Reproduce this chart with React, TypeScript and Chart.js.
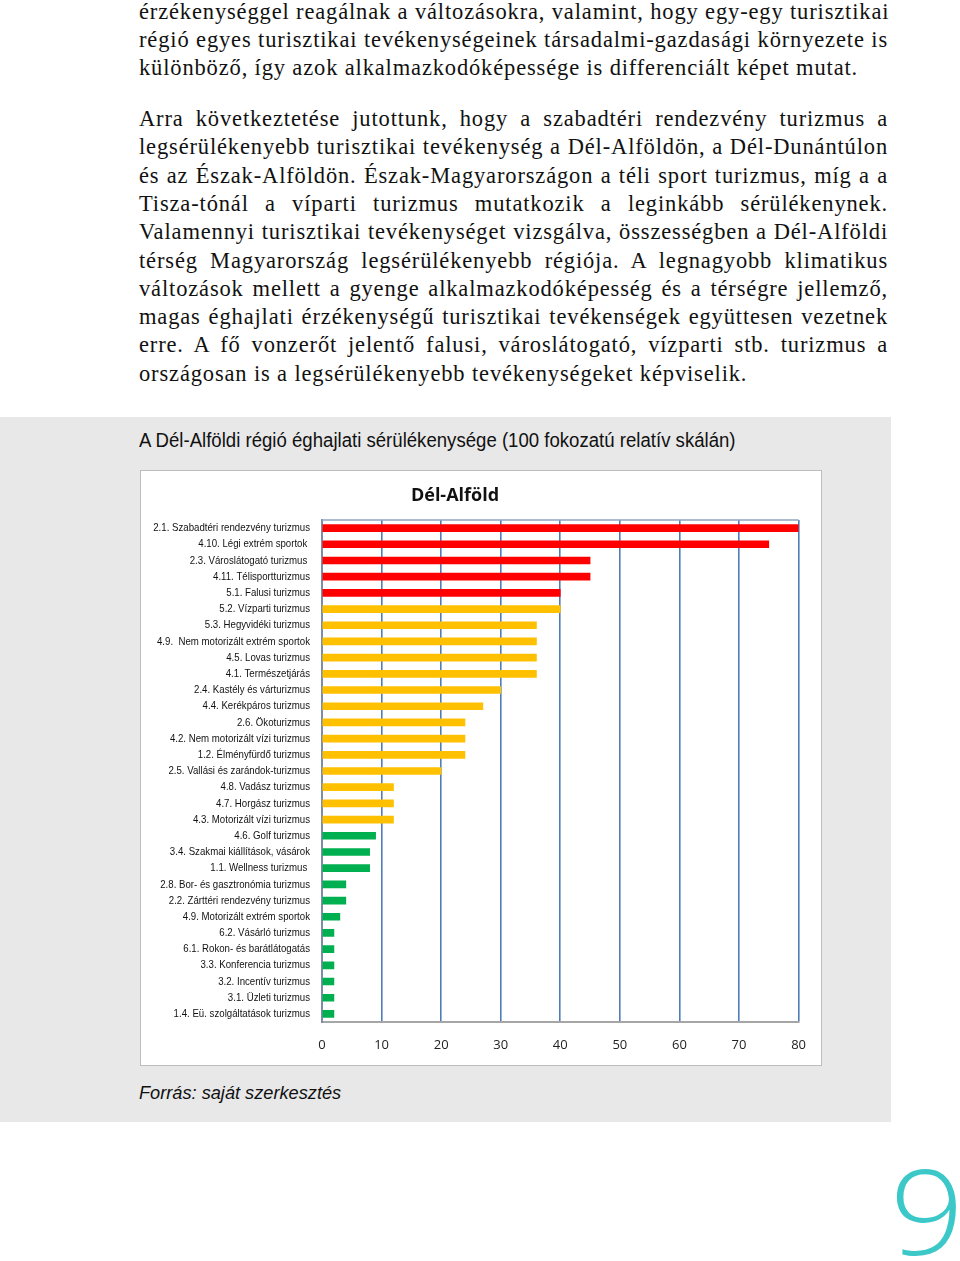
import React, { useEffect, useRef } from "react";
import { Chart, registerables } from "chart.js";

Chart.register(...registerables);

const categories: string[] = [
  "2.1. Szabadtéri rendezvény turizmus",
  "4.10. Légi extrém sportok ",
  "2.3. Városlátogató turizmus ",
  "4.11. Télisportturizmus",
  "5.1. Falusi turizmus",
  "5.2. Vízparti turizmus",
  "5.3. Hegyvidéki turizmus",
  "4.9.  Nem motorizált extrém sportok",
  "4.5. Lovas turizmus",
  "4.1. Természetjárás",
  "2.4. Kastély és várturizmus",
  "4.4. Kerékpáros turizmus",
  "2.6. Ökoturizmus",
  "4.2. Nem motorizált vízi turizmus",
  "1.2. Élményfürdő turizmus",
  "2.5. Vallási és zarándok-turizmus",
  "4.8. Vadász turizmus",
  "4.7. Horgász turizmus",
  "4.3. Motorizált vízi turizmus",
  "4.6. Golf turizmus",
  "3.4. Szakmai kiállítások, vásárok",
  "1.1. Wellness turizmus ",
  "2.8. Bor- és gasztronómia turizmus",
  "2.2. Zárttéri rendezvény turizmus",
  "4.9. Motorizált extrém sportok",
  "6.2. Vásárló turizmus",
  "6.1. Rokon- és barátlátogatás",
  "3.3. Konferencia turizmus",
  "3.2. Incentív turizmus",
  "3.1. Üzleti turizmus",
  "1.4. Eü. szolgáltatások turizmus",
];

const values: number[] = [
  80, 75, 45, 45, 40, 40, 36, 36, 36, 36, 30, 27, 24, 24, 24, 20, 12, 12, 12, 9,
  8, 8, 4, 4, 3, 2, 2, 2, 2, 2, 2,
];

// vulnerability class per bar: "high" (red), "mid" (yellow), "low" (green)
const levels: string[] = [
  "high", "high", "high", "high", "high",
  "mid", "mid", "mid", "mid", "mid", "mid", "mid", "mid", "mid", "mid", "mid",
  "mid", "mid", "mid",
  "low", "low", "low", "low", "low", "low", "low", "low", "low", "low", "low", "low",
];

const levelColors: Record<string, string> = {
  high: "#FF0000",
  mid: "#FFC000",
  low: "#00B050",
};

const xTicks: number[] = [0, 10, 20, 30, 40, 50, 60, 70, 80];

const chartTitle = "Dél-Alföld";
const boxTitle =
  "A Dél-Alföldi régió éghajlati sérülékenysége (100 fokozatú relatív skálán)";
const sourceText = "Forrás: saját szerkesztés";

const para1: string[] = [
  "érzékenységgel reagálnak a változásokra, valamint, hogy egy-egy turisztikai",
  "régió egyes turisztikai tevékenységeinek társadalmi-gazdasági környezete is",
  "különböző, így azok alkalmazkodóképessége is differenciált képet mutat.",
];
const para2: string[] = [
  "Arra következtetése jutottunk, hogy a szabadtéri rendezvény turizmus a",
  "legsérülékenyebb turisztikai tevékenység a Dél-Alföldön, a Dél-Dunántúlon",
  "és az Észak-Alföldön. Észak-Magyarországon a téli sport turizmus, míg a a",
  "Tisza-tónál a víparti turizmus mutatkozik a leginkább sérülékenynek.",
  "Valamennyi turisztikai tevékenységet vizsgálva, összességben a Dél-Alföldi",
  "térség Magyarország legsérülékenyebb régiója. A legnagyobb klimatikus",
  "változások mellett a gyenge alkalmazkodóképesség és a térségre jellemző,",
  "magas éghajlati érzékenységű turisztikai tevékenségek együttesen vezetnek",
  "erre. A fő vonzerőt jelentő falusi, városlátogató, vízparti stb. turizmus a",
  "országosan is a legsérülékenyebb tevékenységeket képviselik.",
];

const plotFrame = {
  id: "plotFrame",
  afterDraw(chart: any) {
    const { ctx, chartArea } = chart;
    ctx.save();
    ctx.strokeStyle = "#8FA3BF";
    ctx.lineWidth = 1.5;
    ctx.beginPath();
    ctx.moveTo(chartArea.left, chartArea.top);
    ctx.lineTo(chartArea.right, chartArea.top);
    ctx.stroke();
    ctx.restore();
  },
};

// draws the category labels of the y scale in a condensed style
const narrowLabels = {
  id: "narrowLabels",
  afterDraw(chart: any) {
    const { ctx } = chart;
    const yScale = chart.scales.y;
    const right = yScale.right - 12;
    ctx.save();
    ctx.fillStyle = "#111";
    ctx.font = '11.5px "Liberation Sans", Arial, sans-serif';
    ctx.textAlign = "right";
    ctx.textBaseline = "middle";
    yScale.ticks.forEach((_t: any, i: number) => {
      const y = yScale.getPixelForTick(i);
      const label = String(chart.data.labels[i]);
      ctx.save();
      ctx.translate(right, y);
      ctx.scale(0.84, 1);
      ctx.fillText(label, 0, 0);
      ctx.restore();
    });
    ctx.restore();
  },
};

function BarChart() {
  const ref = useRef<HTMLCanvasElement | null>(null);
  useEffect(() => {
    if (!ref.current) return;
    const chart = new Chart(ref.current, {
      type: "bar",
      data: {
        labels: categories,
        datasets: [
          {
            data: values,
            backgroundColor: levels.map((l) => levelColors[l]),
            borderWidth: 0,
            barThickness: 7,
          },
        ],
      },
      options: {
        indexAxis: "y",
        animation: false,
        responsive: false,
        maintainAspectRatio: false,
        layout: { padding: { top: 49, right: 17, bottom: 0, left: 0 } },
        plugins: {
          legend: { display: false },
          tooltip: { enabled: false },
          title: { display: false },
        },
        scales: {
          x: {
            min: 0,
            max: 80,
            afterBuildTicks: (scale: any) => {
              scale.ticks = xTicks.map((v) => ({ value: v }));
            },
            afterFit: (scale: any) => {
              scale.height = 43;
            },
            grid: {
              color: "#4F7DB8",
              lineWidth: 1.6,
              drawTicks: false,
            },
            border: { display: true, color: "#A6A6A6", width: 2 },
            ticks: {
              padding: 15,
              color: "#222",
              font: { family: "Open Sans", size: 13 },
            },
          },
          y: {
            afterFit: (scale: any) => {
              scale.width = 181;
            },
            grid: { display: false, drawTicks: false },
            border: { display: true, color: "#7D8DA6", width: 2 },
            ticks: {
              display: false,
              autoSkip: false,
            },
          },
        },
      },
      plugins: [plotFrame, narrowLabels],
    });
    return () => chart.destroy();
  }, []);
  return <canvas ref={ref} width={680} height={594} style={{ display: "block" }} />;
}

const serif = '"Liberation Serif", "Times New Roman", serif';

function TextLine({ text, top, justify }: { text: string; top: number; justify: boolean }) {
  return (
    <div
      style={{
        position: "absolute",
        left: 139,
        top,
        width: 749,
        height: 28,
        lineHeight: "28px",
        fontFamily: serif,
        fontSize: 22.5,
        letterSpacing: "0.85px",
        color: "#111",
        whiteSpace: "nowrap",
        textAlign: justify ? "justify" : "left",
        textAlignLast: justify ? "justify" : "left",
      } as React.CSSProperties}
    >
      {text}
    </div>
  );
}

export default function App() {
  const p1Tops = [-2, 26, 54];
  const p2Start = 105;
  const step = 28.3;
  return (
    <div
      style={{
        position: "absolute",
        left: 0,
        top: 0,
        width: 960,
        height: 1261,
        overflow: "hidden",
        background: "#fff",
      }}
    >
      {para1.map((t, i) => (
        <TextLine key={"a" + i} text={t} top={p1Tops[i]} justify={i < para1.length - 1} />
      ))}
      {para2.map((t, i) => (
        <TextLine
          key={"b" + i}
          text={t}
          top={Math.round(p2Start + i * step)}
          justify={i < para2.length - 1}
        />
      ))}
      <div
        style={{
          position: "absolute",
          left: 0,
          top: 417,
          width: 891,
          height: 705,
          background: "#E8E8E8",
        }}
      />
      <div
        style={{
          position: "absolute",
          left: 139,
          top: 427,
          fontFamily: '"Liberation Sans", Arial, sans-serif',
          fontSize: 20,
          lineHeight: "26px",
          color: "#111",
          whiteSpace: "nowrap",
          transform: "scaleX(0.93)",
          transformOrigin: "0 0",
        }}
      >
        {boxTitle}
      </div>
      <div
        style={{
          position: "absolute",
          left: 140,
          top: 470,
          width: 680,
          height: 594,
          border: "1px solid #BDBDBD",
          background: "#fff",
        }}
      >
        <BarChart />
        <div
          style={{
            position: "absolute",
            left: 0,
            top: 11,
            width: 628,
            textAlign: "center",
            fontFamily: '"Open Sans", sans-serif',
            fontWeight: 700,
            fontSize: 18,
            lineHeight: "24px",
            color: "#111",
          }}
        >
          {chartTitle}
        </div>
      </div>
      <div
        style={{
          position: "absolute",
          left: 139,
          top: 1081,
          fontFamily: '"Liberation Sans", Arial, sans-serif',
          fontStyle: "italic",
          fontSize: 18.2,
          lineHeight: "24px",
          color: "#111",
          whiteSpace: "nowrap",
        }}
      >
        {sourceText}
      </div>
      <div
        style={{
          position: "absolute",
          left: 890,
          top: 1140,
          fontFamily: '"Open Sans", sans-serif',
          fontWeight: 300,
          fontSize: 118,
          lineHeight: "140px",
          color: "#3CC8C8",
          transform: "scaleX(1.1)",
          transformOrigin: "0 0",
        }}
      >
        9
      </div>
    </div>
  );
}
